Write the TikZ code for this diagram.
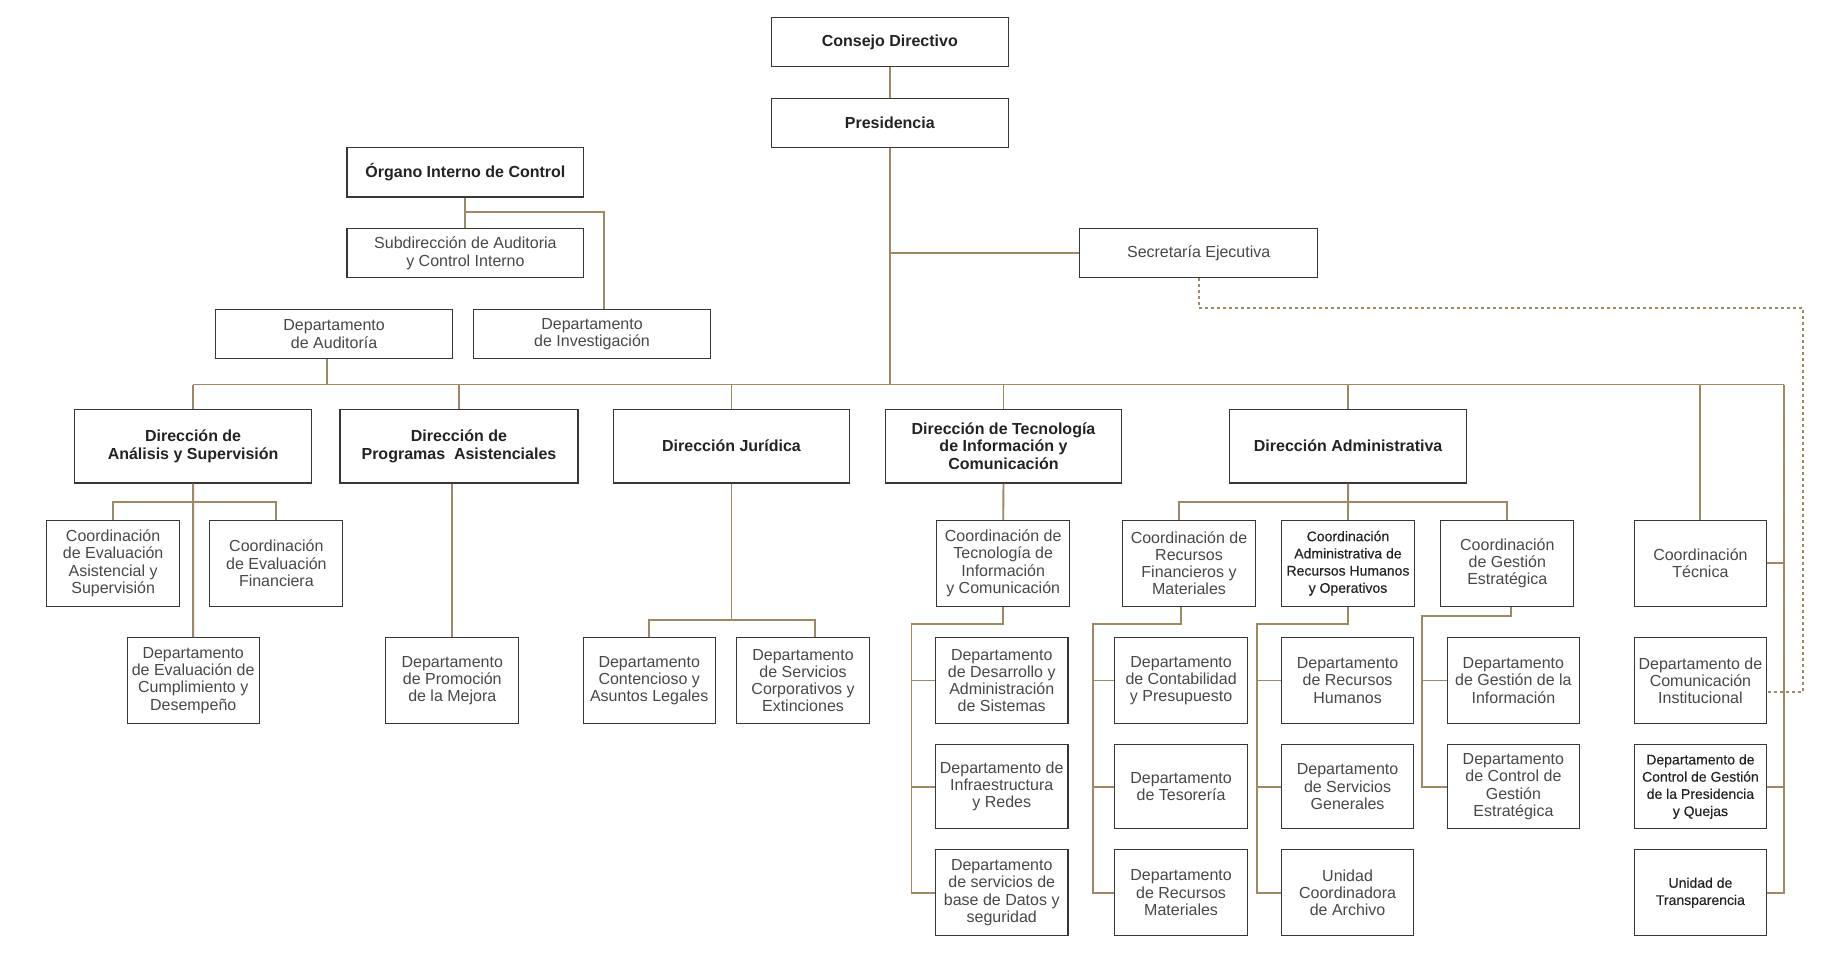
\documentclass[tikz,border=0pt]{standalone}
\usepackage{fontspec}
\setmainfont{Liberation Sans}
\newfontfamily\medfont[FakeBold=0.3]{Liberation Sans}
\usetikzlibrary{calc}
\definecolor{ln}{RGB}{158,137,100}
\definecolor{bd}{RGB}{55,55,55}
\definecolor{tx}{RGB}{72,72,72}
\definecolor{txb}{RGB}{35,35,35}
\tikzset{
 box/.style={draw=bd, line width=0.55pt, inner sep=0pt, align=center, text=tx, font=\fontsize{8}{8.6}\selectfont},
 hbox/.style={box, text=txb, font=\bfseries\fontsize{8}{8.8}\selectfont},
 mbox/.style={box, text=txb, font=\medfont\fontsize{7}{8.6}\selectfont},
 link/.style={draw=ln, line width=0.95pt},
 dlink/.style={draw=ln, line width=0.9pt, dash pattern=on 1.5pt off 1.5pt},
}
\newcommand\bx[7][]{%
 \pgfmathsetmacro\bxw{(#5-#3)*0.58615}%
 \pgfmathsetmacro\bxh{(#6-#4)*0.58615}%
 \node[box,#1,minimum width=\bxw pt,minimum height=\bxh pt] (#2) at ({(#3+#5)/2},{(#4+#6)/2}) {#7};}
\begin{document}
\begin{tikzpicture}[x=0.58615pt,y=-0.58615pt]
\useasboundingbox (0,0) rectangle (1567,834.3);
\fill[white] (0,0) rectangle (1567,834.3);
% top
\bx[hbox]{cons}{658}{15}{860}{57}{Consejo Directivo}
\bx[hbox]{pres}{658}{84}{860}{126}{Presidencia}
\bx[hbox]{oic}{296}{126}{498}{168}{Órgano Interno de Control}
\bx{sub}{296}{195}{498}{237}{Subdirección de Auditoria\\y Control Interno}
\bx{sec}{921}{195}{1124}{237}{Secretaría Ejecutiva}
\bx{aud}{184}{264}{386}{306}{Departamento\\de Auditoría}
\bx{inv}{404}{264}{606}{306}{Departamento\\de Investigación}
% direcciones
\bx[hbox]{ana}{63.5}{349}{266}{412}{Dirección de\\Análisis y Supervisión}
\bx[hbox]{pro}{290}{349}{493}{412}{Dirección de\\Programas\ \ Asistenciales}
\bx[hbox]{jur}{523}{349}{725}{412}{Dirección Jurídica}
\bx[hbox]{dtec}{755}{349}{957}{412}{Dirección de Tecnología\\de Información y\\Comunicación}
\bx[hbox]{dadm}{1049}{349}{1251}{412}{Dirección Administrativa}
% row 2
\bx{cea}{40}{444}{153}{517}{Coordinación\\de Evaluación\\Asistencial y\\Supervisión}
\bx{cef}{179}{444}{292.5}{517}{Coordinación\\de Evaluación\\Financiera}
\bx{ctic}{799}{444}{912.5}{517}{Coordinación de\\Tecnología de\\Información\\y Comunicación}
\bx{crf}{957.5}{444}{1071}{517}{Coordinación de\\Recursos\\Financieros y\\Materiales}
\bx[mbox]{crh}{1093}{444}{1206.7}{517}{Coordinación\\Administrativa de\\Recursos Humanos\\y Operativos}
\bx{cge}{1229}{444}{1342.5}{517}{Coordinación\\de Gestión\\Estratégica}
\bx{ctec}{1394}{444}{1507}{517}{Coordinación\\Técnica}
% row 3
\bx{dec}{108.6}{544}{221}{617}{Departamento\\de Evaluación de\\Cumplimiento y\\Desempeño}
\bx{dpm}{329}{544}{442.6}{617}{Departamento\\de Promoción\\de la Mejora}
\bx{dcl}{497.6}{544}{610}{617}{Departamento\\Contencioso y\\Asuntos Legales}
\bx{dsc}{628}{544}{742}{617}{Departamento\\de Servicios\\Corporativos y\\Extinciones}
\bx{dds}{798}{544}{911}{617}{Departamento\\de Desarrollo y\\Administración\\de Sistemas}
\bx{dcp}{951}{544}{1064}{617}{Departamento\\de Contabilidad\\y Presupuesto}
\bx{drh}{1093}{544}{1206}{617}{Departamento\\de Recursos\\Humanos}
\bx{dgi}{1234.5}{544}{1347.4}{617}{Departamento\\de Gestión de la\\Información}
\bx{dci}{1394}{544}{1507}{617}{Departamento de\\Comunicación\\Institucional}
% row 4
\bx{dir}{798}{635}{911}{707}{Departamento de\\Infraestructura\\y Redes}
\bx{dte}{951}{635}{1064}{707}{Departamento\\de Tesorería}
\bx{dsg}{1093}{635}{1206}{707}{Departamento\\de Servicios\\Generales}
\bx{dcg}{1234.5}{635}{1347.4}{707}{Departamento\\de Control de\\Gestión\\Estratégica}
\bx[mbox]{dcgp}{1394}{635}{1507}{707}{Departamento de\\Control de Gestión\\de la Presidencia\\y Quejas}
% row 5
\bx{dbd}{798}{725}{911}{798}{Departamento\\de servicios de\\base de Datos y\\seguridad}
\bx{drm}{951}{725}{1064}{798}{Departamento\\de Recursos\\Materiales}
\bx{uca}{1093}{725}{1206}{798}{Unidad\\Coordinadora\\de Archivo}
\bx[mbox]{utr}{1394}{725}{1507}{798}{Unidad de\\Transparencia}
% connectors
\coordinate (busy) at (0,328);
\coordinate (busR) at (1522,328);
\draw[link] (cons) -- (pres);
\draw[link] (pres.south) -- (pres.south |- busy);
\draw[link] (ana.north |- busy) -- (busR);
\draw[link] (pres.south |- sec.west) -- (sec.west);
\coordinate (dR) at (1538,263);
\draw[dlink] (sec.south) |- (dR) |- ($(dci.east)+(0,9.5)$);
\coordinate (oicy) at (0,181);
\draw[link] (oic) -- (sub);
\draw[link] (oic.south |- oicy) -| ($(inv.north)+(10,0)$);
\coordinate (audb) at ($(aud.south)+(-6,0)$);
\draw[link] (audb) -- (audb |- busy);
\foreach \n in {ana,pro,jur,dtec,dadm,ctec} \draw[link] (\n.north) -- (\n.north |- busy);
\draw[link] (busR) |- (utr.east);
\draw[link] (ctec.east) -- (ctec.east -| busR);
\draw[link] (dcgp.east) -- (dcgp.east -| busR);
% analisis
\coordinate (anay) at (0,428);
\draw[link] (ana.south) -- (dec.north);
\draw[link] (cea.north) -- (cea.north |- anay) -- (cef.north |- anay) -- (cef.north);
% programas
\draw[link] (dpm.north) -- (dpm.north |- pro.south);
% juridica
\coordinate (jury) at (0,529);
\coordinate (dsct) at ($(dsc.north)+(10,0)$);
\draw[link] (jur.south) -- (jur.south |- jury);
\draw[link] (dcl.north) -- (dcl.north |- jury) -- (dsct |- jury) -- (dsct);
% tecnologia
\draw[link] (dtec.south) -- (ctic.north);
\coordinate (tsp) at (777.5,532);
\draw[link] (ctic.south) -- (ctic.south |- tsp) -- (tsp) |- (dbd.west);
\draw[link] (tsp |- dds.west) -- (dds.west);
\draw[link] (tsp |- dir.west) -- (dir.west);
% administrativa
\draw[link] (dadm.south) -- (crh.north);
\coordinate (crft) at ($(crf.north)+(-8.5,0)$);
\draw[link] (crft) -- (crft |- anay) -- (cge.north |- anay) -- (cge.north);
\coordinate (crfb) at ($(crf.south)+(-6.5,0)$);
\coordinate (fsp) at (932,532);
\draw[link] (crfb) -- (crfb |- fsp) -- (fsp) |- (drm.west);
\draw[link] (fsp |- dcp.west) -- (dcp.west);
\draw[link] (fsp |- dte.west) -- (dte.west);
\coordinate (hsp) at (1072,532);
\draw[link] (crh.south) -- (crh.south |- hsp) -- (hsp) |- (uca.west);
\draw[link] (hsp |- drh.west) -- (drh.west);
\draw[link] (hsp |- dsg.west) -- (dsg.west);
\coordinate (cgeb) at ($(cge.south)+(3.5,0)$);
\coordinate (gsp) at (1212.7,525.8);
\draw[link] (cgeb) -- (cgeb |- gsp) -- (gsp) |- (dcg.west);
\draw[link] (gsp |- dgi.west) -- (dgi.west);
\end{tikzpicture}
\end{document}
